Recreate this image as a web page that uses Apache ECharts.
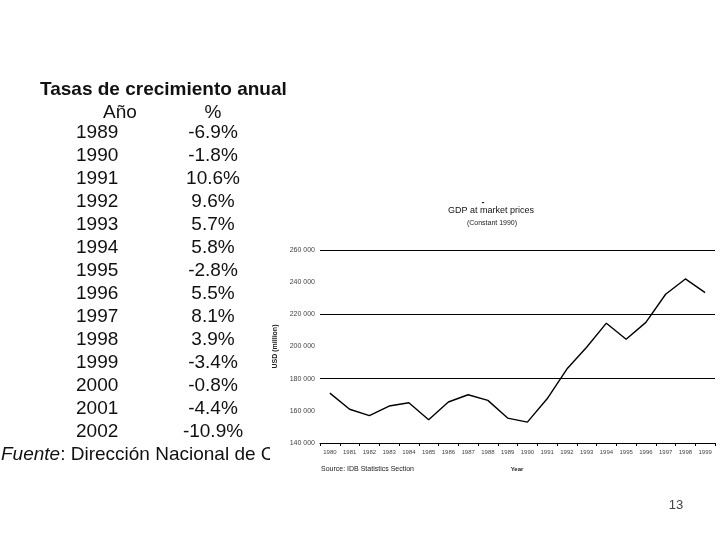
<!DOCTYPE html>
<html>
<head>
<meta charset="utf-8">
<script src="https://cdn.jsdelivr.net/npm/echarts@6/dist/echarts.min.js"></script>
<style>
  html, body { margin: 0; background: #fff; }
  #main { width: 720px; height: 540px; }
</style>
</head>
<body>
<div id="main"></div>
<script>
// 图表数据
var years = ['1980', '1981', '1982', '1983', '1984', '1985', '1986', '1987', '1988', '1989',
             '1990', '1991', '1992', '1993', '1994', '1995', '1996', '1997', '1998', '1999'];
var gdp = [171000, 161000, 157000, 163000, 165000, 154500, 165500, 170000, 166500, 155500,
           153000, 167500, 186000, 199500, 214500, 204500, 215000, 232500, 242000, 233500];
var yMin = 140000, yMax = 260000, yStep = 20000;

// 左侧表格
var tableYears = ['1989', '1990', '1991', '1992', '1993', '1994', '1995',
                  '1996', '1997', '1998', '1999', '2000', '2001', '2002'];
var tableRates = ['-6.9%', '-1.8%', '10.6%', '9.6%', '5.7%', '5.8%', '-2.8%',
                  '5.5%', '8.1%', '3.9%', '-3.4%', '-0.8%', '-4.4%', '-10.9%'];

(function() {
  var myChart = echarts.init(document.getElementById('main'));
  var font = 'Liberation Sans, Arial, sans-serif';

  // 表格文字
  var elements = [
    { type: 'text', left: 40, top: 80, style: { text: 'Tasas de crecimiento anual', font: 'bold 19px ' + font, fill: '#111' } },
    { type: 'text', x: 120, y: 113, style: { text: 'Año', font: '19px ' + font, fill: '#111', align: 'center', verticalAlign: 'middle' } },
    { type: 'text', x: 213, y: 113, style: { text: '%', font: '19px ' + font, fill: '#111', align: 'center', verticalAlign: 'middle' } }
  ];
  tableYears.forEach(function(y, i) {
    elements.push({ type: 'text', x: 76, y: 133 + 23 * i,
      style: { text: y, font: '19px ' + font, fill: '#111', verticalAlign: 'middle' } });
    elements.push({ type: 'text', x: 213, y: 133 + 23 * i,
      style: { text: tableRates[i], font: '19px ' + font, fill: '#111', align: 'center', verticalAlign: 'middle' } });
  });
  elements.push({ type: 'text', x: 1, y: 455,
    style: {
      text: '{i|Fuente}{n|: Dirección Nacional de C}',
      verticalAlign: 'middle',
      rich: {
        i: { font: 'italic 19px ' + font, fill: '#111' },
        n: { font: '19px ' + font, fill: '#111' }
      }
    } });
  // 右侧图片的白底遮住来源文字
  elements.push({ type: 'rect', shape: { x: 270, y: 440, width: 48, height: 30 }, style: { fill: '#fff' } });

  // 图表标题等
  elements.push({ type: 'text', x: 483, y: 203, style: { text: '-', font: 'bold 9px ' + font, fill: '#111', align: 'center', verticalAlign: 'middle' } });
  elements.push({ type: 'text', x: 491, y: 211, style: { text: 'GDP at market prices', font: '9px ' + font, fill: '#111', align: 'center', verticalAlign: 'middle' } });
  elements.push({ type: 'text', x: 492, y: 223, style: { text: '(Constant 1990)', font: '7px ' + font, fill: '#222', align: 'center', verticalAlign: 'middle' } });
  elements.push({ type: 'text', x: 321, y: 469, style: { text: 'Source: IDB Statistics Section', font: '7px ' + font, fill: '#222', verticalAlign: 'middle' } });
  elements.push({ type: 'text', x: 517, y: 469, style: { text: 'Year', font: 'bold 6px ' + font, fill: '#222', align: 'center', verticalAlign: 'middle' } });
  // 页码
  elements.push({ type: 'text', x: 676, y: 505, style: { text: '13', font: '13px ' + font, fill: '#444', align: 'center', verticalAlign: 'middle' } });

  var option = {
    backgroundColor: '#fff',
    animation: false,
    graphic: elements,
    grid: { left: 320, right: 5, top: 250, bottom: 97 },
    xAxis: {
      type: 'category',
      data: years,
      boundaryGap: true,
      axisLine: { lineStyle: { color: '#000', width: 1 } },
      axisTick: { show: true, length: 3, lineStyle: { color: '#000' } },
      axisLabel: { color: '#444', fontSize: 6, fontFamily: font, margin: 6, interval: 0 }
    },
    yAxis: {
      type: 'value',
      min: yMin,
      max: yMax,
      interval: yStep,
      name: 'USD (million)',
      nameLocation: 'middle',
      nameGap: 40,
      nameRotate: 90,
      nameTextStyle: { fontSize: 7, fontWeight: 'bold', color: '#222', fontFamily: font },
      axisLine: { show: false },
      axisTick: { show: false },
      axisLabel: {
        color: '#444', fontSize: 7, fontFamily: font, margin: 5,
        formatter: function(v) { return String(v).replace(/\B(?=(\d{3})+(?!\d))/g, ' '); }
      },
      // 网格线隔一条显示
      splitLine: { show: true, lineStyle: { color: ['#000', 'rgba(0,0,0,0)'], width: 1 } }
    },
    series: [{
      type: 'line',
      data: gdp,
      showSymbol: false,
      symbol: 'none',
      lineStyle: { color: '#000', width: 1.4 }
    }]
  };
  myChart.setOption(option);
  window.addEventListener('resize', function() {
    myChart.resize();
  });
})();
</script>
</body>
</html>
